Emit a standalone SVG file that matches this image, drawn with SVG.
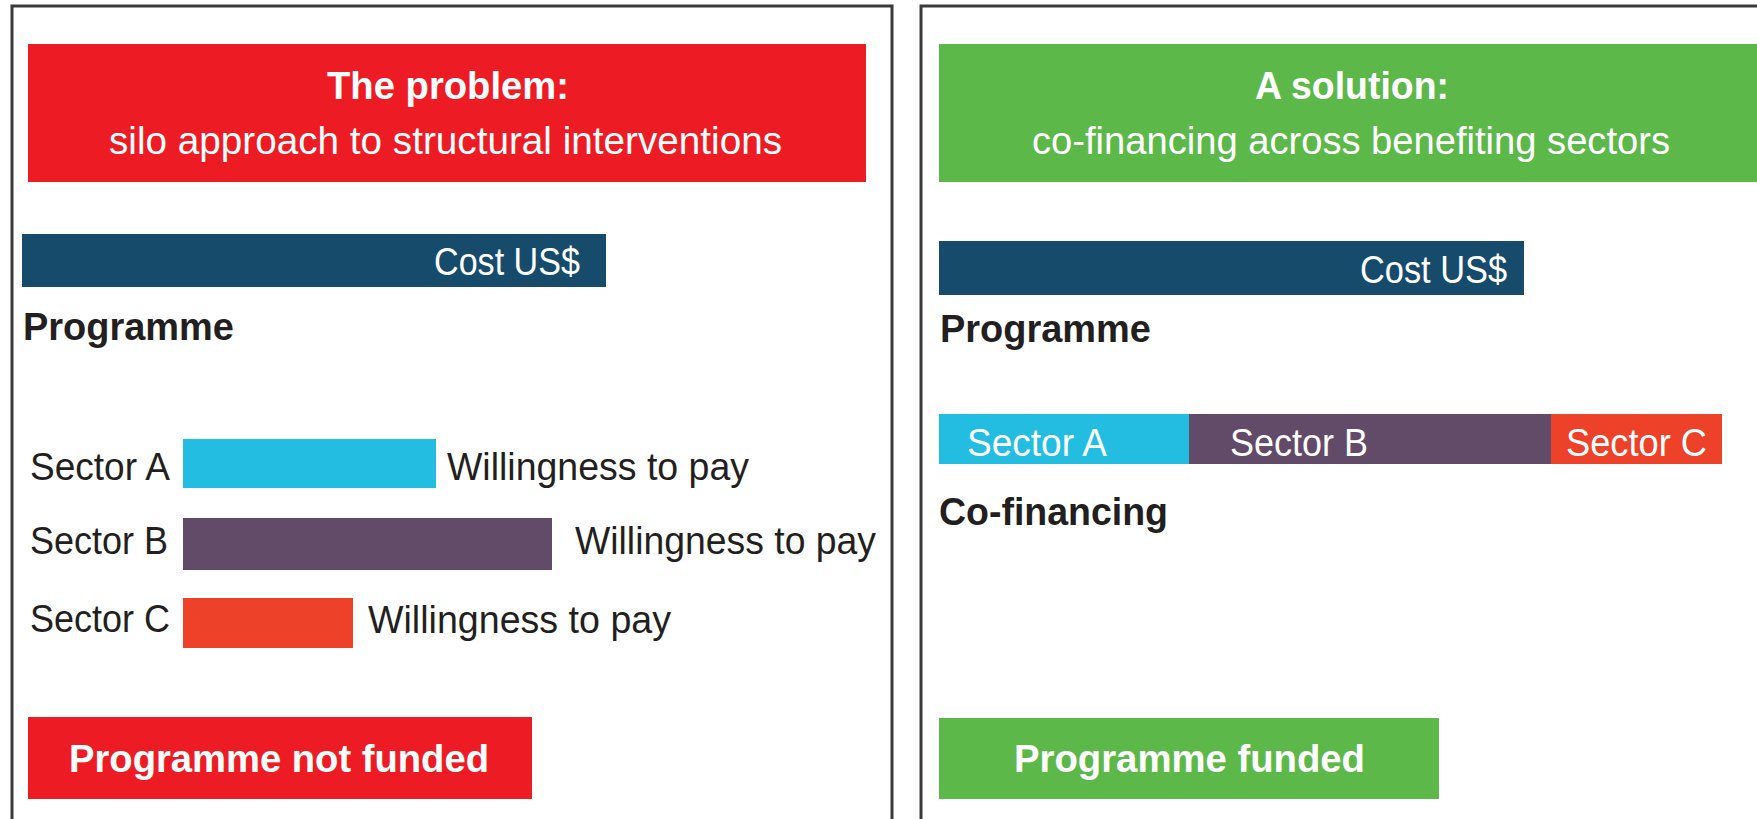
<svg xmlns="http://www.w3.org/2000/svg" width="1757" height="819" viewBox="0 0 1757 819">
<style>
  .panel { fill: #ffffff; stroke: #3a3a3a; stroke-width: 3; }
  .t { font-family: "Liberation Sans", Arial, sans-serif; font-size: 38px; }
  .b { font-weight: bold; }
  .w { fill: #ffffff; }
  .d { fill: #231f20; }
  .red { fill: #ed1c24; }
  .green { fill: #5db84a; }
  .cost { fill: #164b6b; }
  .ca { fill: #22bde1; }
  .cb { fill: #624a69; }
  .cc { fill: #ee4129; }
</style>
<rect x="0" y="0" width="1757" height="819" fill="#ffffff"/>
<g id="panel-problem">
  <rect class="panel" x="12" y="6" width="880" height="830"/>
</g>
<g id="panel-solution">
  <rect class="panel" x="921" y="6" width="860" height="830"/>
</g>
<g id="header-problem">
  <rect class="red" x="28" y="44" width="838" height="138"/>
  <text class="t b w" x="327" y="99" textLength="242" lengthAdjust="spacingAndGlyphs">The problem:</text>
  <text class="t w" x="109" y="154" textLength="673" lengthAdjust="spacingAndGlyphs">silo approach to structural interventions</text>
</g>
<g id="header-solution">
  <rect class="green" x="939" y="44" width="830" height="138"/>
  <text class="t b w" x="1255" y="99" textLength="194" lengthAdjust="spacingAndGlyphs">A solution:</text>
  <text class="t w" x="1032" y="154" textLength="638" lengthAdjust="spacingAndGlyphs">co-financing across benefiting sectors</text>
</g>
<g id="cost-problem">
  <rect class="cost" x="22" y="234" width="584" height="53"/>
  <text class="t w" x="434" y="275" textLength="146" lengthAdjust="spacingAndGlyphs">Cost US$</text>
  <text class="t b d" x="23" y="340" textLength="211" lengthAdjust="spacingAndGlyphs">Programme</text>
</g>
<g id="cost-solution">
  <rect class="cost" x="939" y="241" width="585" height="54"/>
  <text class="t w" x="1360" y="283" textLength="147" lengthAdjust="spacingAndGlyphs">Cost US$</text>
  <text class="t b d" x="940" y="342" textLength="211" lengthAdjust="spacingAndGlyphs">Programme</text>
</g>
<g id="sector-a-problem">
  <text class="t d" x="30" y="480" textLength="140" lengthAdjust="spacingAndGlyphs">Sector A</text>
  <rect class="ca" x="183" y="439" width="253" height="49"/>
  <text class="t d" x="447" y="480" textLength="302" lengthAdjust="spacingAndGlyphs">Willingness to pay</text>
</g>
<g id="sector-b-problem">
  <text class="t d" x="30" y="554" textLength="138" lengthAdjust="spacingAndGlyphs">Sector B</text>
  <rect class="cb" x="183" y="518" width="369" height="52"/>
  <text class="t d" x="575" y="554" textLength="301" lengthAdjust="spacingAndGlyphs">Willingness to pay</text>
</g>
<g id="sector-c-problem">
  <text class="t d" x="30" y="632" textLength="140" lengthAdjust="spacingAndGlyphs">Sector C</text>
  <rect class="cc" x="183" y="598" width="170" height="50"/>
  <text class="t d" x="368" y="633" textLength="303" lengthAdjust="spacingAndGlyphs">Willingness to pay</text>
</g>
<g id="outcome-problem">
  <rect class="red" x="28" y="717" width="504" height="82"/>
  <text class="t b w" x="69" y="772" textLength="420" lengthAdjust="spacingAndGlyphs">Programme not funded</text>
</g>
<g id="cofinancing">
  <rect class="ca" x="939" y="414" width="251" height="50"/>
  <rect class="cb" x="1189" y="414" width="363" height="50"/>
  <rect class="cc" x="1551" y="414" width="171" height="50"/>
  <text class="t w" x="967" y="456" textLength="140" lengthAdjust="spacingAndGlyphs">Sector A</text>
  <text class="t w" x="1230" y="456" textLength="138" lengthAdjust="spacingAndGlyphs">Sector B</text>
  <text class="t w" x="1566" y="456" textLength="141" lengthAdjust="spacingAndGlyphs">Sector C</text>
  <text class="t b d" x="939" y="525" textLength="229" lengthAdjust="spacingAndGlyphs">Co-financing</text>
</g>
<g id="outcome-solution">
  <rect class="green" x="939" y="718" width="500" height="81"/>
  <text class="t b w" x="1014" y="772" textLength="351" lengthAdjust="spacingAndGlyphs">Programme funded</text>
</g>
<g id="connectors"></g>
</svg>
